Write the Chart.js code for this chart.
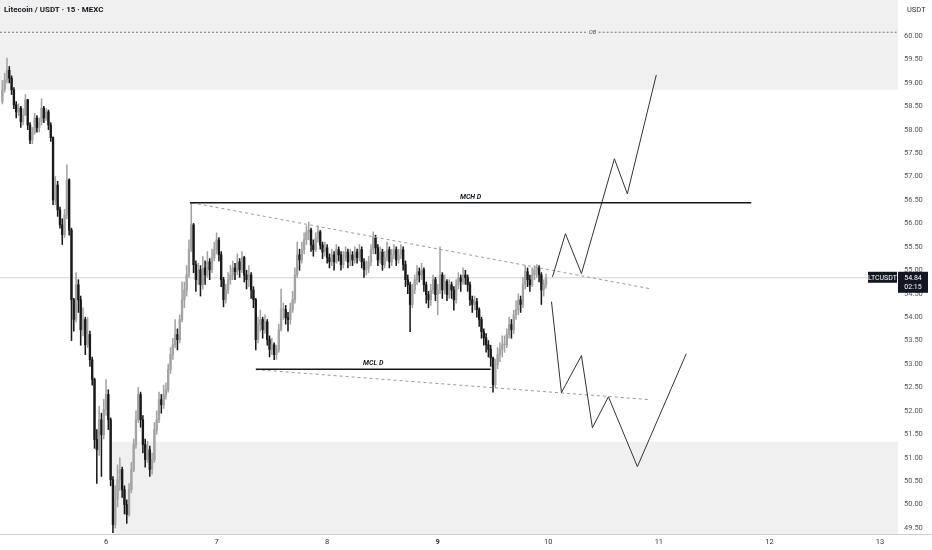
<!DOCTYPE html>
<html><head><meta charset="utf-8">
<script src="https://cdn.jsdelivr.net/npm/chart.js@4.4.1/dist/chart.umd.min.js"></script>
<style>html,body{margin:0;padding:0;background:#fff}#wrap{width:932px;height:550px;position:relative}</style>
</head><body><div id="wrap"><canvas id="c" width="932" height="550"></canvas></div>
<script>
// ---------- data ----------
const title = 'Litecoin / USDT · 15 · MEXC';
const quoteLabel = 'USDT';
const symbol = 'LTCUSDT';
const lastPrice = 54.84;
const countdown = '02:15';
const startDay = 5.0625;     // day value of first bar
const barsPerDay = 48;
const firstOpen = 58.60;
const closes = [
58.85,59.06,59.27,59.10,58.85,58.53,58.38,58.46,58.17,58.32,
58.64,58.10,57.78,57.95,58.25,58.04,58.17,58.46,58.25,58.38,
58.10,57.83,56.50,56.82,56.29,55.97,55.76,56.18,56.93,55.86,
54.37,53.95,54.69,54.37,53.73,53.95,53.41,53.63,53.09,52.67,
51.39,51.17,51.81,51.49,52.03,52.35,51.81,50.53,49.57,50.11,
50.53,50.75,50.32,50.00,49.79,50.32,50.75,51.28,51.81,52.35,
51.81,51.28,50.96,51.17,50.75,50.96,51.60,51.81,52.24,52.13,
52.35,52.45,52.88,53.20,53.41,53.63,53.52,53.95,54.37,54.58,
54.90,55.44,55.97,55.12,54.80,55.01,54.69,55.05,54.90,55.18,
55.01,55.27,55.44,55.65,55.33,54.80,54.37,54.58,54.80,54.90,
55.05,54.97,55.18,55.01,55.27,54.90,54.80,54.90,54.58,54.37,
53.52,53.84,53.95,53.73,53.90,53.52,53.31,53.41,53.20,53.31,
53.73,54.16,54.16,53.99,53.95,54.16,54.37,54.90,55.33,55.22,
55.44,55.65,55.82,55.86,55.54,55.44,55.69,55.82,55.54,55.39,
55.48,55.27,55.18,55.33,55.18,55.44,55.33,55.12,55.27,55.39,
55.18,55.33,55.22,55.39,55.27,55.44,55.18,55.01,55.05,55.18,
55.44,55.69,55.48,55.22,55.39,55.12,55.27,55.44,55.18,55.33,
55.44,55.22,55.33,55.44,55.12,54.80,54.69,54.27,54.58,54.80,
54.97,54.90,55.01,54.69,54.48,54.37,54.58,54.80,54.48,54.58,
54.90,54.58,54.76,54.48,54.69,54.58,54.37,54.69,54.84,54.76,
54.90,54.84,54.69,54.37,54.27,54.33,54.16,53.95,53.69,53.56,
53.41,53.31,53.13,52.56,52.99,53.20,53.31,53.41,53.41,53.63,
53.84,53.73,54.05,54.16,54.37,54.27,54.69,54.97,54.80,54.69,
54.90,55.01,55.05,54.90,54.58,54.69,54.84
];
const highs = [
59.05,59.20,59.53,59.35,59.15,58.90,58.60,58.55,58.50,58.45,
58.75,58.65,58.15,58.05,58.35,58.30,58.25,58.66,58.50,58.45,
58.42,58.15,57.85,57.00,56.90,56.35,56.10,56.30,57.25,56.95,
55.90,54.40,54.95,54.80,54.45,54.20,54.00,53.99,53.70,53.15,
52.70,51.60,52.10,51.95,52.25,52.67,52.45,51.85,50.60,50.40,
50.85,51.00,50.80,50.40,50.10,50.45,50.90,51.40,52.00,52.50,
52.40,51.90,51.40,51.35,51.25,51.10,51.75,52.00,52.40,52.35,
52.55,52.60,53.00,53.35,53.55,53.95,53.75,54.05,54.75,54.75,
55.10,55.65,56.45,56.00,55.20,55.15,55.10,55.30,55.20,55.40,
55.25,55.45,55.60,55.80,55.70,55.40,54.85,54.70,54.95,55.10,
55.20,55.15,55.35,55.25,55.40,55.30,55.00,55.10,54.95,54.65,
54.40,54.00,54.15,54.00,54.05,53.95,53.60,53.55,53.45,53.40,
53.85,54.60,54.30,54.25,54.10,54.30,54.55,55.05,55.60,55.45,
55.60,55.80,55.95,56.03,55.90,55.65,55.80,55.95,55.85,55.60,
55.60,55.55,55.35,55.45,55.40,55.55,55.50,55.40,55.40,55.50,
55.45,55.45,55.40,55.50,55.45,55.55,55.50,55.25,55.20,55.30,
55.55,55.82,55.75,55.55,55.50,55.45,55.40,55.60,55.50,55.45,
55.55,55.50,55.45,55.55,55.50,55.20,54.90,54.75,54.70,54.90,
55.10,55.05,55.15,55.05,54.75,54.55,54.70,54.90,54.85,54.70,
55.50,54.95,54.90,54.80,54.80,54.75,54.65,54.80,54.95,54.90,
55.05,55.00,54.90,54.75,54.45,54.45,54.40,54.20,54.00,53.75,
53.65,53.50,53.40,53.15,53.10,53.35,53.45,53.60,53.60,53.75,
54.00,53.95,54.15,54.35,54.50,54.45,54.85,55.10,55.05,54.90,
55.05,55.10,55.12,55.10,54.95,54.80,54.92
];
const lows = [
58.55,58.80,59.00,59.00,58.75,58.45,58.25,58.30,58.05,58.10,
58.30,58.00,57.70,57.70,57.90,57.95,57.95,58.10,58.15,58.20,
58.00,57.75,56.40,56.40,56.15,55.90,55.55,55.70,56.10,55.75,
53.50,53.70,53.90,54.10,53.40,53.60,53.20,53.35,52.95,52.55,
51.20,50.45,51.05,50.60,51.40,51.90,51.60,50.40,49.40,49.50,
49.95,50.30,50.15,49.80,49.60,49.75,50.25,50.70,51.20,51.75,
51.65,51.10,50.80,50.90,50.60,50.65,50.90,51.50,51.75,51.95,
52.05,52.25,52.40,52.80,53.10,53.35,53.30,53.45,53.90,54.20,
54.45,54.85,55.40,54.95,54.55,54.70,54.45,54.60,54.70,54.85,
54.80,54.95,55.20,55.35,55.20,54.65,54.22,54.30,54.50,54.70,
54.80,54.80,54.90,54.85,54.95,54.75,54.60,54.65,54.40,54.20,
53.30,53.45,53.70,53.55,53.65,53.40,53.15,53.20,53.09,53.10,
53.25,53.70,53.95,53.85,53.70,53.85,54.10,54.30,54.85,55.00,
55.15,55.35,55.55,55.65,55.40,55.30,55.40,55.60,55.45,55.25,
55.30,55.15,55.05,55.10,55.00,55.15,55.20,55.00,55.05,55.20,
55.05,55.10,55.10,55.15,55.15,55.20,55.05,54.85,54.90,54.95,
55.10,55.35,55.35,55.10,55.15,55.00,55.05,55.20,55.05,55.10,
55.25,55.10,55.15,55.25,55.00,54.65,54.50,53.69,54.20,54.50,
54.70,54.75,54.80,54.55,54.30,54.20,54.25,54.50,54.35,54.05,
54.50,54.40,54.50,54.35,54.40,54.40,54.15,54.30,54.60,54.55,
54.70,54.70,54.55,54.25,54.10,54.15,54.00,53.80,53.55,53.40,
53.25,53.15,52.95,52.40,52.50,52.90,53.05,53.15,53.25,53.35,
53.55,53.55,53.65,53.95,54.05,54.10,54.20,54.60,54.65,54.55,
54.65,54.80,54.85,54.75,54.27,54.45,54.62
];
const dayTicks = [6,7,8,9,10,11,12,13];
const boldDay = 9;
const priceTicks = [49.5,50,50.5,51,51.5,52,52.5,53,53.5,54,54.5,55,55.5,56,56.5,57,57.5,58,58.5,59,59.5,60];
const xRange = [5.041, 13.163];
const yRange = [49.372, 60.768];
const obLevel = 60.08, obLabelDay = 10.40;
const supplyBottom = 58.85;
const demandTop = 51.34, demandStartDay = 6.054;
const mchLevel = 56.44, mchDays = [6.759, 11.836];
const mclLevel = 52.89, mclDays = [7.355, 9.478];
const upperTrendDays = [6.777, 10.914], upperTrendPrices = [56.44, 54.61];
const lowerTrendDays = [7.355, 10.914], lowerTrendPrices = [52.88, 52.24];
const projUpDays = [10.038, 10.155, 10.300, 10.598, 10.715, 10.977];
const projUpPrices = [54.86, 55.78, 54.93, 57.38, 56.63, 59.17];
const projDownDays = [10.029, 10.119, 10.300, 10.399, 10.544, 10.806, 11.248];
const projDownPrices = [54.33, 52.39, 53.18, 51.64, 52.30, 50.81, 53.22];

// ---------- build ----------
const opens = closes.map((c, i) => i === 0 ? firstOpen : closes[i - 1]);
const times = closes.map((c, i) => startDay + i / barsPerDay);
const upColor = '#a3a3a3', downColor = '#1a1a1a';
const candleColor = ctx => closes[ctx.dataIndex] >= opens[ctx.dataIndex] ? upColor : downColor;
const wickData = times.map((t, i) => ({x: t, y: [Math.min(lows[i], opens[i], closes[i]), Math.max(highs[i], opens[i], closes[i])]}));
const bodyData = times.map((t, i) => ({x: t, y: [opens[i], closes[i]]}));
const seg = (xs, ys) => xs.map((x, i) => ({x, y: ys[i]}));
const lineDs = (data, color, width, dash, order) => ({type: 'line', data, borderColor: color, borderWidth: width, borderDash: dash || [], pointRadius: 0, tension: 0, fill: false, order: order ?? 0});
const obGap = 0.055;

const datasets = [
  {type: 'line', data: seg(xRange, [supplyBottom, supplyBottom]), borderWidth: 0, pointRadius: 0, fill: 'end', backgroundColor: '#f0f0f0', order: 20},
  {type: 'line', data: seg([demandStartDay, xRange[1]], [demandTop, demandTop]), borderWidth: 0, pointRadius: 0, fill: 'start', backgroundColor: '#f0f0f0', order: 20},
  lineDs(seg(xRange, [lastPrice, lastPrice]), '#d4d4d4', 1, [], 15),
  lineDs(seg([xRange[0], obLabelDay - obGap], [obLevel, obLevel]), '#777777', 1, [2, 2], 14),
  lineDs(seg([obLabelDay + obGap, xRange[1]], [obLevel, obLevel]), '#777777', 1, [2, 2], 14),
  {type: 'bar', data: wickData, backgroundColor: candleColor, barThickness: 0.9, grouped: false, borderWidth: 0, order: 5},
  {type: 'bar', data: bodyData, backgroundColor: candleColor, barThickness: 1.7, grouped: false, borderWidth: 0, minBarLength: 1, order: 4},
  lineDs(seg(upperTrendDays, upperTrendPrices), '#9a9a9a', 1, [3, 3], 2),
  lineDs(seg(lowerTrendDays, lowerTrendPrices), '#9a9a9a', 1, [3, 3], 2),
  lineDs(seg(mchDays, [mchLevel, mchLevel]), '#131722', 1.5, [], 1),
  lineDs(seg(mclDays, [mclLevel, mclLevel]), '#131722', 1.5, [], 1),
  lineDs(seg(projUpDays, projUpPrices), '#333333', 1, [], 1),
  lineDs(seg(projDownDays, projDownPrices), '#333333', 1, [], 1)
];

const FONT = 'Roboto, "Liberation Sans", sans-serif';
const annot = {
  id: 'annot',
  afterDatasetsDraw(chart) {
    const {ctx, scales: {x, y}} = chart;
    ctx.save();
    ctx.fillStyle = '#131722';
    ctx.textAlign = 'center';
    ctx.textBaseline = 'bottom';
    ctx.font = 'italic bold 7px ' + FONT;
    ctx.fillText('MCH D', x.getPixelForValue((mchDays[0] + mchDays[1]) / 2), y.getPixelForValue(mchLevel) - 2);
    ctx.fillText('MCL D', x.getPixelForValue((mclDays[0] + mclDays[1]) / 2), y.getPixelForValue(mclLevel) - 2);
    ctx.font = 'italic 6px ' + FONT;
    ctx.fillStyle = '#555';
    ctx.textBaseline = 'middle';
    ctx.fillText('OB', x.getPixelForValue(obLabelDay), y.getPixelForValue(obLevel));
    ctx.restore();
  },
  afterDraw(chart) {
    const {ctx, chartArea, scales: {y}} = chart;
    ctx.save();
    ctx.strokeStyle = '#cfcfcf'; ctx.lineWidth = 1;
    ctx.beginPath(); ctx.moveTo(0, chartArea.bottom + 0.5); ctx.lineTo(chart.width, chartArea.bottom + 0.5); ctx.stroke();
    ctx.fillStyle = '#131722'; ctx.textAlign = 'left'; ctx.textBaseline = 'middle';
    ctx.font = 'bold 8px ' + FONT;
    ctx.fillText(title, 4, 10);
    ctx.font = '7.5px ' + FONT; ctx.fillStyle = '#333';
    ctx.fillText(quoteLabel, chartArea.right + 9, 10);
    const py = y.getPixelForValue(lastPrice);
    ctx.fillStyle = '#131722';
    ctx.fillRect(chartArea.right - 30, py - 6, 29, 11);
    ctx.fillRect(chartArea.right, py - 6, 30, 21);
    ctx.fillStyle = '#fff'; ctx.font = '7px ' + FONT; ctx.textAlign = 'center';
    ctx.fillText(symbol, chartArea.right - 15.5, py);
    ctx.fillText(lastPrice.toFixed(2), chartArea.right + 15, py);
    ctx.fillText(countdown, chartArea.right + 15, py + 9);
    ctx.restore();
  }
};

new Chart(document.getElementById('c'), {
  type: 'bar',
  data: {datasets},
  options: {
    responsive: false, animation: false, devicePixelRatio: 1,
    layout: {padding: 0},
    plugins: {legend: {display: false}, tooltip: {enabled: false}},
    scales: {
      x: {
        type: 'linear', min: xRange[0], max: xRange[1], offset: false,
        grid: {display: false, offset: false, drawTicks: false}, border: {display: false},
        afterBuildTicks: s => { s.ticks = dayTicks.map(v => ({value: v})); },
        afterFit: s => { s.height = 16; s.paddingLeft = 0; s.paddingRight = 0; },
        ticks: {
          padding: 4, color: '#333', maxRotation: 0, autoSkip: false,
          font: c => ({family: FONT, size: 7.5, weight: c.tick && c.tick.value === boldDay ? 'bold' : 'normal'}),
          callback: v => String(v)
        }
      },
      y: {
        type: 'linear', position: 'right', min: yRange[0], max: yRange[1],
        grid: {display: false, drawTicks: false}, border: {display: false},
        afterBuildTicks: s => { s.ticks = priceTicks.map(v => ({value: v})); },
        afterFit: s => { s.width = 34; s.paddingTop = 0; s.paddingBottom = 0; },
        ticks: {padding: 6, color: '#555', font: {family: FONT, size: 7.5}, callback: v => Number(v).toFixed(2)}
      }
    }
  },
  plugins: [annot]
});
</script></body></html>
